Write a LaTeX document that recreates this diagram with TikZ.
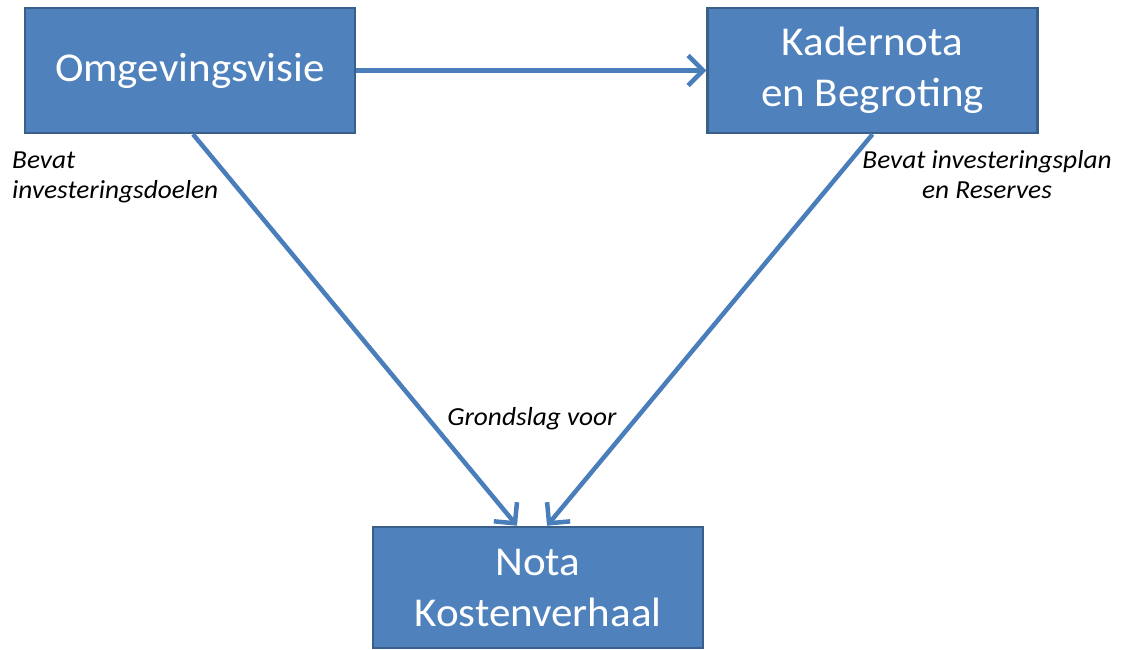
\documentclass[tikz,border=0pt]{standalone}
\usepackage{fontspec}
\setmainfont{Carlito}[FakeStretch=1.05]
\usetikzlibrary{arrows.meta,calc}
\definecolor{boxfill}{HTML}{4F81BD}
\definecolor{boxline}{HTML}{3A5F8B}
\definecolor{arrowc}{HTML}{4A7EBB}
\begin{document}
\begin{tikzpicture}[x=1pt,y=-1pt,
  box/.style={draw=boxline, line width=2.5pt, fill=boxfill, text=white,
    minimum width=330pt, minimum height=125pt, align=center,
    font=\fontsize{41}{51}\selectfont, inner sep=0pt},
  conn/.style={draw=arrowc, line width=4.5pt,
    -{Straight Barb[length=15pt,width=30pt]}},
  lbl/.style={font=\fontsize{26}{30}\selectfont\itshape, inner sep=0pt}]
\useasboundingbox (0,0) rectangle (1125,650);
\node[box] (o) at (190,70.5) {Omgevingsvisie};
\node[box] (k) at (872.5,70.5) {Kadernota\\en Begroting};
\node[box, minimum height=121pt] (n) at (538,587.5) {Nota\\Kostenverhaal};
\draw[conn] (o.east) -- (k.west);
\draw[conn] ($(o.south)+(3,0)$) -- ($(n.north)+(-21,0)$);
\draw[conn] (k.south) -- ($(n.north)+(9,0)$);
\node[lbl, anchor=base west, align=left] (l1) at (12,198) {Bevat\\investeringsdoelen};
\node[lbl, anchor=base, align=center] (l2) at (987,198) {Bevat investeringsplan\\en Reserves};
\node[lbl, anchor=base] (l3) at (532,425) {Grondslag voor};
\end{tikzpicture}
\end{document}
